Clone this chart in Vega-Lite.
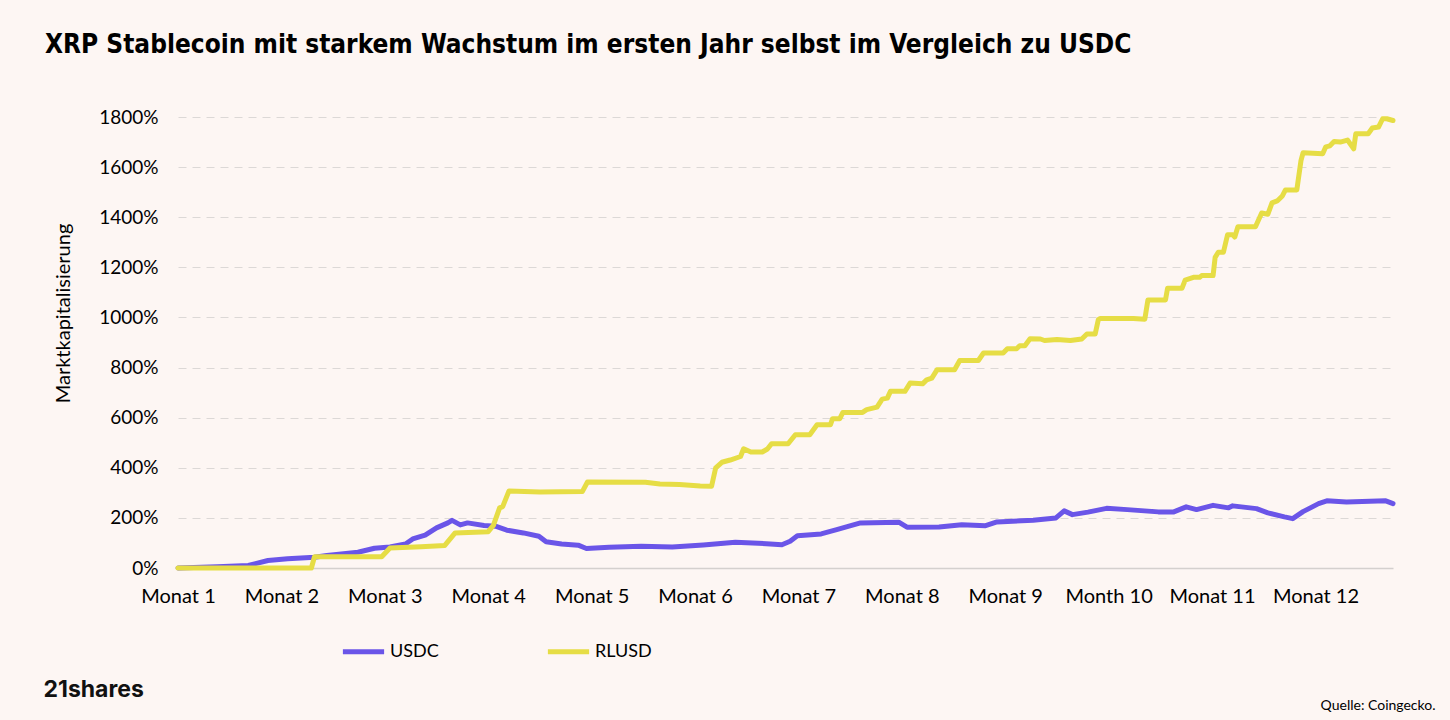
{
  "$schema": "https://vega.github.io/schema/vega-lite/v6.json",
  "width": 1215,
  "height": 451,
  "autosize": "none",
  "padding": {"left": 178, "top": 117, "right": 57, "bottom": 152},
  "background": "#FDF6F3",
  "title": {
    "text": "XRP Stablecoin mit starkem Wachstum im ersten Jahr selbst im Vergleich zu USDC",
    "anchor": "start",
    "frame": "group",
    "dx": -133,
    "offset": 50,
    "font": "DejaVu Sans Condensed, Roboto",
    "fontWeight": "bold",
    "fontSize": 26,
    "color": "#000000"
  },
  "config": {
    "view": {"stroke": null},
    "font": "Lato"
  },
  "data": {
    "values": [
      {"series": "USDC", "m": 0.00, "v": 0},
      {"series": "USDC", "m": 0.38, "v": 5},
      {"series": "USDC", "m": 0.68, "v": 10},
      {"series": "USDC", "m": 0.87, "v": 30},
      {"series": "USDC", "m": 1.06, "v": 37},
      {"series": "USDC", "m": 1.32, "v": 43},
      {"series": "USDC", "m": 1.44, "v": 50},
      {"series": "USDC", "m": 1.74, "v": 63},
      {"series": "USDC", "m": 1.90, "v": 79},
      {"series": "USDC", "m": 2.05, "v": 84},
      {"series": "USDC", "m": 2.20, "v": 96},
      {"series": "USDC", "m": 2.27, "v": 116},
      {"series": "USDC", "m": 2.39, "v": 131},
      {"series": "USDC", "m": 2.50, "v": 160},
      {"series": "USDC", "m": 2.61, "v": 180},
      {"series": "USDC", "m": 2.65, "v": 190},
      {"series": "USDC", "m": 2.73, "v": 172},
      {"series": "USDC", "m": 2.80, "v": 180},
      {"series": "USDC", "m": 2.96, "v": 170},
      {"series": "USDC", "m": 3.07, "v": 167},
      {"series": "USDC", "m": 3.18, "v": 151},
      {"series": "USDC", "m": 3.34, "v": 140},
      {"series": "USDC", "m": 3.49, "v": 127},
      {"series": "USDC", "m": 3.56, "v": 105},
      {"series": "USDC", "m": 3.71, "v": 96},
      {"series": "USDC", "m": 3.87, "v": 91},
      {"series": "USDC", "m": 3.95, "v": 78},
      {"series": "USDC", "m": 4.17, "v": 83},
      {"series": "USDC", "m": 4.48, "v": 87},
      {"series": "USDC", "m": 4.78, "v": 84},
      {"series": "USDC", "m": 5.08, "v": 92},
      {"series": "USDC", "m": 5.39, "v": 103},
      {"series": "USDC", "m": 5.69, "v": 97},
      {"series": "USDC", "m": 5.84, "v": 93},
      {"series": "USDC", "m": 5.92, "v": 107},
      {"series": "USDC", "m": 5.99, "v": 129},
      {"series": "USDC", "m": 6.22, "v": 136},
      {"series": "USDC", "m": 6.37, "v": 153},
      {"series": "USDC", "m": 6.60, "v": 180},
      {"series": "USDC", "m": 6.97, "v": 183},
      {"series": "USDC", "m": 7.05, "v": 163},
      {"series": "USDC", "m": 7.36, "v": 164},
      {"series": "USDC", "m": 7.58, "v": 173},
      {"series": "USDC", "m": 7.81, "v": 169},
      {"series": "USDC", "m": 7.92, "v": 184},
      {"series": "USDC", "m": 8.27, "v": 191},
      {"series": "USDC", "m": 8.49, "v": 200},
      {"series": "USDC", "m": 8.57, "v": 228},
      {"series": "USDC", "m": 8.65, "v": 213},
      {"series": "USDC", "m": 8.80, "v": 223},
      {"series": "USDC", "m": 8.98, "v": 238},
      {"series": "USDC", "m": 9.18, "v": 233},
      {"series": "USDC", "m": 9.48, "v": 224},
      {"series": "USDC", "m": 9.63, "v": 224},
      {"series": "USDC", "m": 9.75, "v": 244},
      {"series": "USDC", "m": 9.85, "v": 233},
      {"series": "USDC", "m": 10.01, "v": 250},
      {"series": "USDC", "m": 10.16, "v": 240},
      {"series": "USDC", "m": 10.20, "v": 248},
      {"series": "USDC", "m": 10.43, "v": 237},
      {"series": "USDC", "m": 10.54, "v": 220},
      {"series": "USDC", "m": 10.70, "v": 204},
      {"series": "USDC", "m": 10.78, "v": 197},
      {"series": "USDC", "m": 10.88, "v": 225},
      {"series": "USDC", "m": 11.03, "v": 257},
      {"series": "USDC", "m": 11.11, "v": 268},
      {"series": "USDC", "m": 11.30, "v": 263},
      {"series": "USDC", "m": 11.68, "v": 268},
      {"series": "USDC", "m": 11.75, "v": 257},
      {"series": "RLUSD", "m": 0.00, "v": 0},
      {"series": "RLUSD", "m": 1.29, "v": 0},
      {"series": "RLUSD", "m": 1.32, "v": 45},
      {"series": "RLUSD", "m": 1.97, "v": 45},
      {"series": "RLUSD", "m": 2.05, "v": 80},
      {"series": "RLUSD", "m": 2.35, "v": 85},
      {"series": "RLUSD", "m": 2.58, "v": 90},
      {"series": "RLUSD", "m": 2.68, "v": 140},
      {"series": "RLUSD", "m": 3.00, "v": 145},
      {"series": "RLUSD", "m": 3.05, "v": 170},
      {"series": "RLUSD", "m": 3.11, "v": 240},
      {"series": "RLUSD", "m": 3.14, "v": 245},
      {"series": "RLUSD", "m": 3.20, "v": 307},
      {"series": "RLUSD", "m": 3.50, "v": 303},
      {"series": "RLUSD", "m": 3.91, "v": 305},
      {"series": "RLUSD", "m": 3.96, "v": 343},
      {"series": "RLUSD", "m": 4.52, "v": 342},
      {"series": "RLUSD", "m": 4.66, "v": 335},
      {"series": "RLUSD", "m": 4.85, "v": 333},
      {"series": "RLUSD", "m": 5.05, "v": 327},
      {"series": "RLUSD", "m": 5.16, "v": 326},
      {"series": "RLUSD", "m": 5.20, "v": 400},
      {"series": "RLUSD", "m": 5.26, "v": 422},
      {"series": "RLUSD", "m": 5.34, "v": 431},
      {"series": "RLUSD", "m": 5.44, "v": 445},
      {"series": "RLUSD", "m": 5.47, "v": 476},
      {"series": "RLUSD", "m": 5.54, "v": 463},
      {"series": "RLUSD", "m": 5.65, "v": 463},
      {"series": "RLUSD", "m": 5.70, "v": 475},
      {"series": "RLUSD", "m": 5.74, "v": 496},
      {"series": "RLUSD", "m": 5.90, "v": 496},
      {"series": "RLUSD", "m": 5.97, "v": 532},
      {"series": "RLUSD", "m": 6.11, "v": 532},
      {"series": "RLUSD", "m": 6.18, "v": 572},
      {"series": "RLUSD", "m": 6.31, "v": 572},
      {"series": "RLUSD", "m": 6.33, "v": 596},
      {"series": "RLUSD", "m": 6.40, "v": 596},
      {"series": "RLUSD", "m": 6.43, "v": 621},
      {"series": "RLUSD", "m": 6.62, "v": 621},
      {"series": "RLUSD", "m": 6.66, "v": 632},
      {"series": "RLUSD", "m": 6.76, "v": 642},
      {"series": "RLUSD", "m": 6.81, "v": 674},
      {"series": "RLUSD", "m": 6.86, "v": 678},
      {"series": "RLUSD", "m": 6.89, "v": 705},
      {"series": "RLUSD", "m": 7.03, "v": 705},
      {"series": "RLUSD", "m": 7.08, "v": 738},
      {"series": "RLUSD", "m": 7.20, "v": 735},
      {"series": "RLUSD", "m": 7.24, "v": 751},
      {"series": "RLUSD", "m": 7.29, "v": 758},
      {"series": "RLUSD", "m": 7.34, "v": 791},
      {"series": "RLUSD", "m": 7.51, "v": 791},
      {"series": "RLUSD", "m": 7.56, "v": 828},
      {"series": "RLUSD", "m": 7.74, "v": 828},
      {"series": "RLUSD", "m": 7.79, "v": 858},
      {"series": "RLUSD", "m": 7.98, "v": 858},
      {"series": "RLUSD", "m": 8.02, "v": 875},
      {"series": "RLUSD", "m": 8.11, "v": 875},
      {"series": "RLUSD", "m": 8.14, "v": 887},
      {"series": "RLUSD", "m": 8.19, "v": 887},
      {"series": "RLUSD", "m": 8.24, "v": 915},
      {"series": "RLUSD", "m": 8.34, "v": 914},
      {"series": "RLUSD", "m": 8.38, "v": 908},
      {"series": "RLUSD", "m": 8.50, "v": 912},
      {"series": "RLUSD", "m": 8.63, "v": 908},
      {"series": "RLUSD", "m": 8.74, "v": 914},
      {"series": "RLUSD", "m": 8.79, "v": 934},
      {"series": "RLUSD", "m": 8.87, "v": 934},
      {"series": "RLUSD", "m": 8.90, "v": 991},
      {"series": "RLUSD", "m": 8.92, "v": 996},
      {"series": "RLUSD", "m": 9.24, "v": 996},
      {"series": "RLUSD", "m": 9.35, "v": 993},
      {"series": "RLUSD", "m": 9.38, "v": 1070},
      {"series": "RLUSD", "m": 9.55, "v": 1070},
      {"series": "RLUSD", "m": 9.57, "v": 1117},
      {"series": "RLUSD", "m": 9.71, "v": 1117},
      {"series": "RLUSD", "m": 9.74, "v": 1149},
      {"series": "RLUSD", "m": 9.82, "v": 1160},
      {"series": "RLUSD", "m": 9.88, "v": 1160},
      {"series": "RLUSD", "m": 9.90, "v": 1167},
      {"series": "RLUSD", "m": 10.01, "v": 1167},
      {"series": "RLUSD", "m": 10.03, "v": 1240},
      {"series": "RLUSD", "m": 10.06, "v": 1260},
      {"series": "RLUSD", "m": 10.11, "v": 1260},
      {"series": "RLUSD", "m": 10.15, "v": 1330},
      {"series": "RLUSD", "m": 10.20, "v": 1330},
      {"series": "RLUSD", "m": 10.22, "v": 1321},
      {"series": "RLUSD", "m": 10.25, "v": 1362},
      {"series": "RLUSD", "m": 10.42, "v": 1362},
      {"series": "RLUSD", "m": 10.48, "v": 1417},
      {"series": "RLUSD", "m": 10.54, "v": 1412},
      {"series": "RLUSD", "m": 10.58, "v": 1457},
      {"series": "RLUSD", "m": 10.63, "v": 1465},
      {"series": "RLUSD", "m": 10.68, "v": 1485},
      {"series": "RLUSD", "m": 10.71, "v": 1509},
      {"series": "RLUSD", "m": 10.82, "v": 1509},
      {"series": "RLUSD", "m": 10.86, "v": 1626},
      {"series": "RLUSD", "m": 10.88, "v": 1657},
      {"series": "RLUSD", "m": 11.07, "v": 1653},
      {"series": "RLUSD", "m": 11.10, "v": 1681},
      {"series": "RLUSD", "m": 11.14, "v": 1685},
      {"series": "RLUSD", "m": 11.18, "v": 1702},
      {"series": "RLUSD", "m": 11.24, "v": 1700},
      {"series": "RLUSD", "m": 11.31, "v": 1708},
      {"series": "RLUSD", "m": 11.37, "v": 1673},
      {"series": "RLUSD", "m": 11.39, "v": 1733},
      {"series": "RLUSD", "m": 11.51, "v": 1733},
      {"series": "RLUSD", "m": 11.55, "v": 1756},
      {"series": "RLUSD", "m": 11.61, "v": 1760},
      {"series": "RLUSD", "m": 11.65, "v": 1793},
      {"series": "RLUSD", "m": 11.69, "v": 1793},
      {"series": "RLUSD", "m": 11.75, "v": 1786}
    ]
  },
  "resolve": {"axis": {"x": "independent"}},
  "layer": [
    {
      "mark": {"type": "line", "strokeWidth": 5, "strokeJoin": "round", "strokeCap": "round", "interpolate": "linear"},
      "encoding": {
        "x": {
          "field": "m",
          "type": "quantitative",
          "scale": {"domain": [0, 11.75], "nice": false, "zero": false},
          "axis": {
            "values": [0, 1, 2, 3, 4, 5, 6, 7, 8, 9, 10, 11],
            "labelExpr": "datum.value == 9 ? 'Month 10' : 'Monat ' + (datum.value + 1)",
            "labelFont": "Lato",
            "labelFontSize": 20,
            "labelColor": "#000000",
            "labelPadding": 18,
            "labelFlush": false,
            "labelOverlap": false,
            "ticks": false,
            "grid": false,
            "domain": true,
            "domainColor": "#D4D0CE",
            "domainWidth": 1.5,
            "title": "Quelle: Coingecko.",
            "titleFont": "Lato",
            "titleFontSize": 14,
            "titleFontWeight": "normal",
            "titleColor": "#000000",
            "titleAnchor": "end",
            "titleAlign": "right",
            "titleX": 1257,
            "titleY": 137,
            "titleBaseline": "middle"
          }
        },
        "y": {
          "field": "v",
          "type": "quantitative",
          "scale": {"domain": [0, 1800], "nice": false},
          "axis": {
            "values": [0, 200, 400, 600, 800, 1000, 1200, 1400, 1600, 1800],
            "labelExpr": "datum.value + '%'",
            "labelFont": "Lato",
            "labelFontSize": 19,
            "labelColor": "#000000",
            "labelPadding": 20,
            "ticks": false,
            "domain": false,
            "grid": true,
            "gridColor": "#DCD8D6",
            "gridDash": [8, 6],
            "gridWidth": 1,
            "title": "Marktkapitalisierung",
            "titleFont": "Lato",
            "titleFontSize": 20,
            "titleFontWeight": "normal",
            "titleColor": "#000000",
            "titleAngle": -90,
            "titleX": -115,
            "titleY": 196,
            "titleAlign": "center",
            "titleBaseline": "middle"
          }
        },
        "color": {
          "field": "series",
          "type": "nominal",
          "scale": {"domain": ["USDC", "RLUSD"], "range": ["#6A55E8", "#E6DD45"]},
          "legend": {
            "title": null,
            "orient": "none",
            "direction": "horizontal",
            "legendX": 162,
            "legendY": 511,
            "symbolType": "stroke",
            "symbolSize": 1700,
            "symbolStrokeWidth": 5,
            "labelFont": "Lato",
            "labelFontSize": 18,
            "labelColor": "#000000",
            "labelOffset": 3,
            "columnPadding": 98
          }
        }
      }
    },
    {
      "mark": {"type": "line", "strokeOpacity": 0},
      "encoding": {
        "x": {
          "field": "m",
          "type": "quantitative",
          "axis": {
            "orient": "top",
            "labels": false,
            "ticks": false,
            "domain": false,
            "grid": false,
            "title": "21shares",
            "titleFont": "Inter",
            "titleFontSize": 23,
            "titleFontWeight": 700,
            "titleColor": "#111111",
            "titleAnchor": "start",
            "titleAlign": "left",
            "titleBaseline": "middle",
            "titleX": -135,
            "titleY": 572
          }
        },
        "y": {"field": "v", "type": "quantitative"}
      }
    }
  ]
}
